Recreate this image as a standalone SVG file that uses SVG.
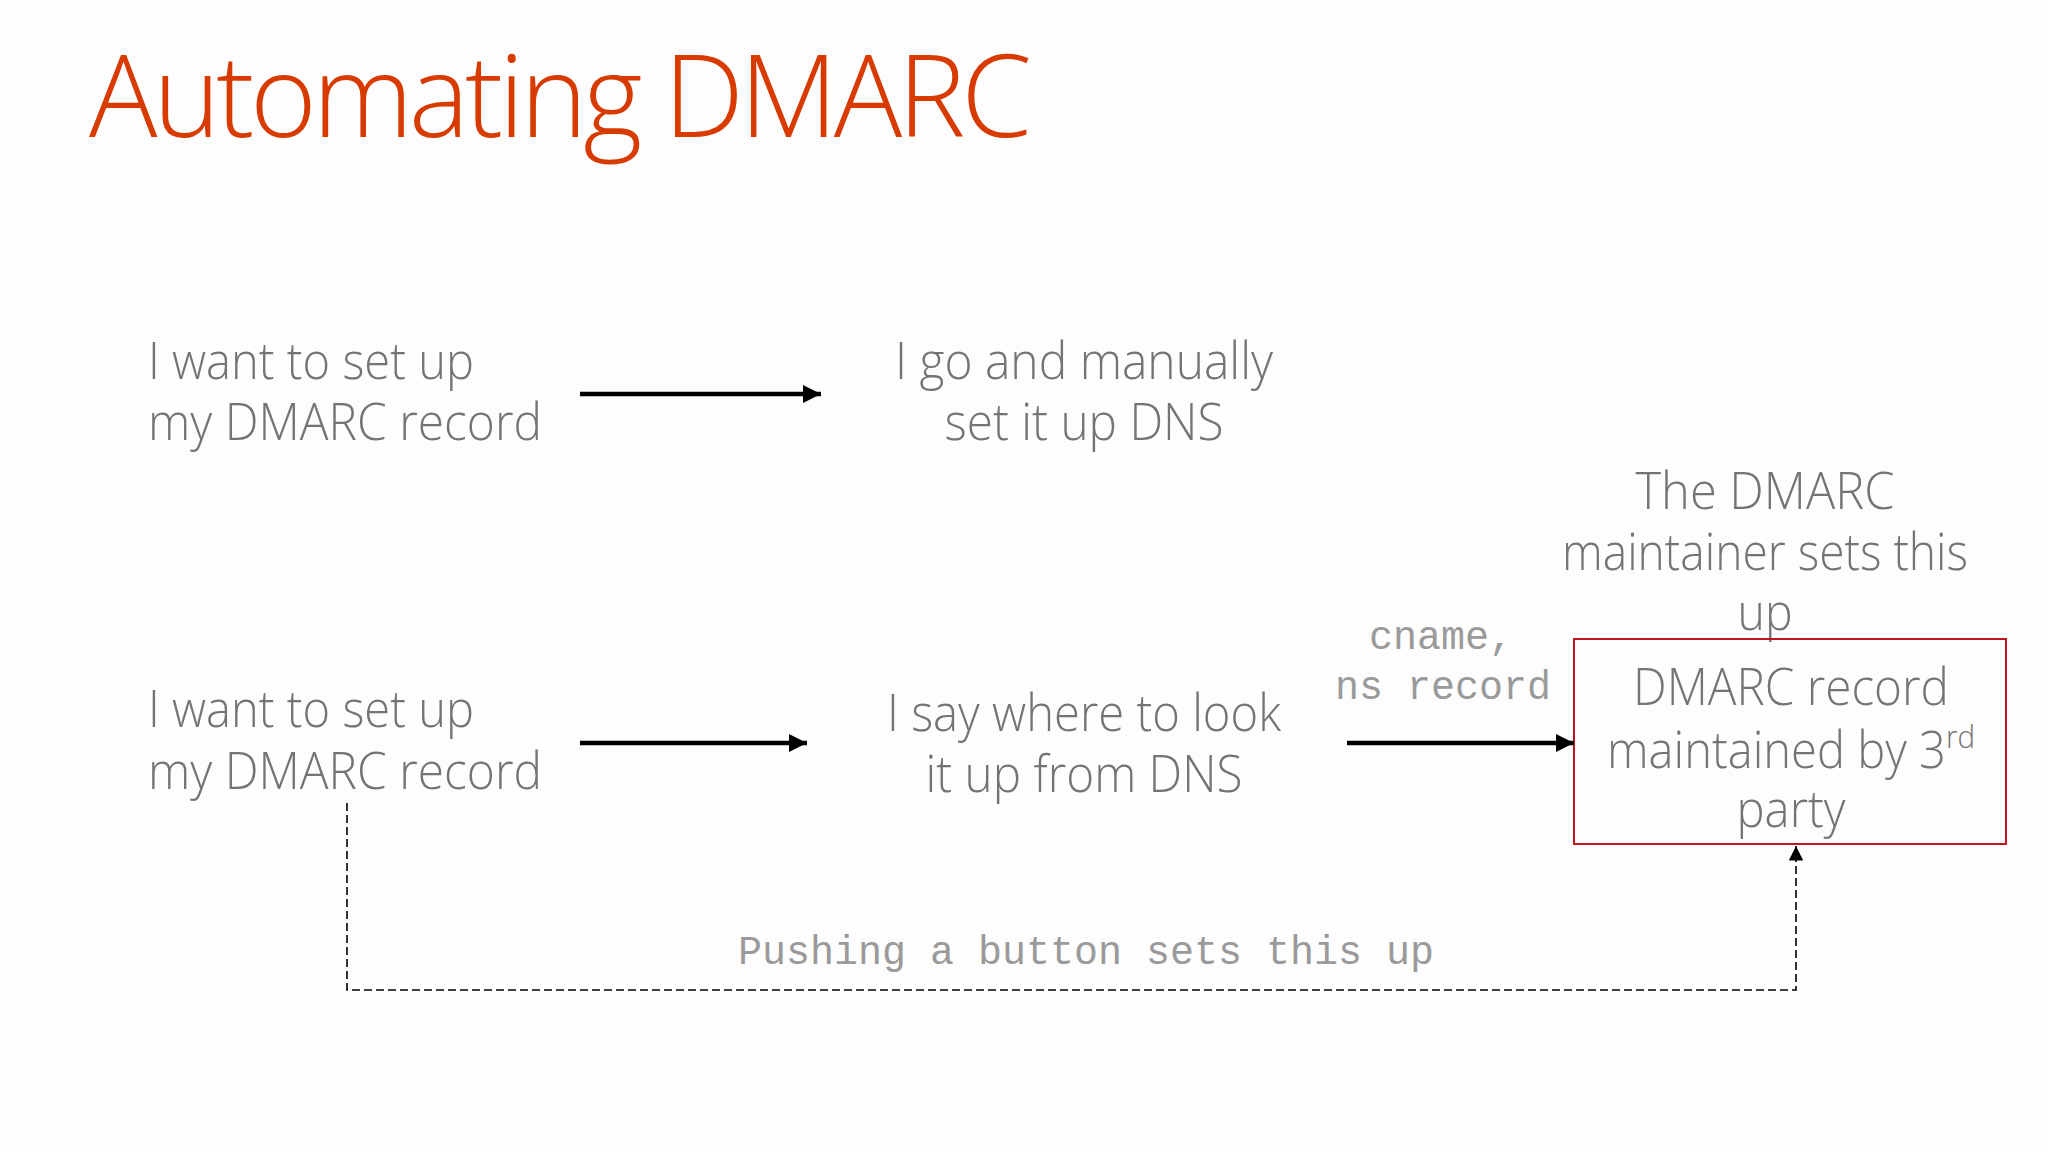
<svg xmlns="http://www.w3.org/2000/svg" width="2048" height="1152" viewBox="0 0 2048 1152">
<style>
.t{font-family:"Open Sans","Noto Sans","Liberation Sans",sans-serif;font-weight:300;font-size:51px;fill:#747474}
.m{font-family:"Liberation Mono","Courier New",monospace;font-size:40px;fill:#9a9a9a}
.title{font-family:"Open Sans","Noto Sans","Liberation Sans",sans-serif;font-weight:300;font-size:114px;fill:#D83B01}
.c{text-anchor:middle}
.arrow{stroke:#000;stroke-width:4.5;fill:none}
.dash{stroke:#000;stroke-width:1.6;fill:none;stroke-dasharray:8 4}
</style>
<defs>
<marker id="ah" viewBox="0 0 10 10" refX="10" refY="5" markerWidth="4" markerHeight="4.4" orient="auto" markerUnits="strokeWidth">
<path d="M0,0 L10,5 L0,10 Z" fill="#000"/>
</marker>
<marker id="ahs" viewBox="0 0 10 10" refX="10" refY="5" markerWidth="10" markerHeight="9" orient="auto" markerUnits="strokeWidth">
<path d="M0,0 L10,5 L0,10 Z" fill="#000"/>
</marker>
</defs>
<rect width="2048" height="1152" fill="#fdfdfd"/>
<text class="title" x="89" y="137" textLength="943">Automating DMARC</text>

<g id="node-want1">
<text class="t" x="148" y="379" textLength="326" lengthAdjust="spacingAndGlyphs">I want to set up</text>
<text class="t" x="148" y="440" textLength="394" lengthAdjust="spacingAndGlyphs">my DMARC record</text>
</g>
<g id="node-manual">
<text class="t c" x="1084" y="379" textLength="378" lengthAdjust="spacingAndGlyphs">I go and manually</text>
<text class="t c" x="1084" y="440" textLength="279" lengthAdjust="spacingAndGlyphs">set it up DNS</text>
</g>
<g id="node-want2">
<text class="t" x="148" y="727" textLength="326" lengthAdjust="spacingAndGlyphs">I want to set up</text>
<text class="t" x="148" y="789" textLength="394" lengthAdjust="spacingAndGlyphs">my DMARC record</text>
</g>
<g id="node-say">
<text class="t c" x="1084" y="731" textLength="394" lengthAdjust="spacingAndGlyphs">I say where to look</text>
<text class="t c" x="1084" y="792" textLength="317" lengthAdjust="spacingAndGlyphs">it up from DNS</text>
</g>
<g id="node-maintainer">
<text class="t c" x="1765" y="509" textLength="259" lengthAdjust="spacingAndGlyphs">The DMARC</text>
<text class="t c" x="1765" y="570" textLength="406" lengthAdjust="spacingAndGlyphs">maintainer sets this</text>
<text class="t c" x="1765" y="630" textLength="55" lengthAdjust="spacingAndGlyphs">up</text>
</g>
<g id="node-3rdparty">
<rect x="1574" y="639" width="432" height="205" fill="none" stroke="#C0141E" stroke-width="2"/>
<text class="t c" x="1791" y="705" textLength="316" lengthAdjust="spacingAndGlyphs">DMARC record</text>
<text class="t c" x="1791" y="768" textLength="368" lengthAdjust="spacingAndGlyphs">maintained by 3<tspan font-size="32" dy="-20">rd</tspan></text>
<text class="t c" x="1791" y="827" textLength="109" lengthAdjust="spacingAndGlyphs">party</text>
</g>

<g id="connectors">
<line class="arrow" x1="580" y1="394" x2="821" y2="394" marker-end="url(#ah)"/>
<line class="arrow" x1="580" y1="743" x2="807" y2="743" marker-end="url(#ah)"/>
<line class="arrow" x1="1347" y1="743" x2="1574" y2="743" marker-end="url(#ah)"/>
<text class="m c" x="1441" y="649">cname,</text>
<text class="m c" x="1443" y="699">ns record</text>
<path class="dash" d="M347,803 V990 H1796 V846" marker-end="url(#ahs)"/>
<text class="m c" x="1086" y="964">Pushing a button sets this up</text>
</g>
</svg>
